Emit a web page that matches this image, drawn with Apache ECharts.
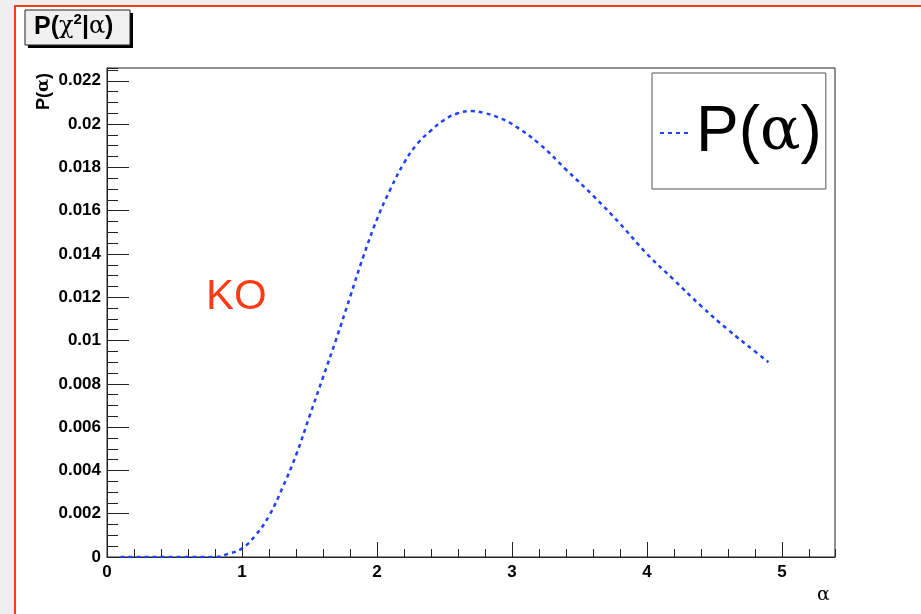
<!DOCTYPE html>
<html>
<head>
<meta charset="utf-8">
<script src="https://cdn.jsdelivr.net/npm/echarts@6/dist/echarts.min.js"></script>
<style>
  html, body { margin: 0; padding: 0; background: #efefef; }
  #chart { position: absolute; left: 0; top: 0; width: 921px; height: 614px; }
</style>
</head>
<body>
<div id="chart"></div>
<script>
// values
const alphaValues = [0.1, 0.2, 0.3, 0.4, 0.5, 0.6, 0.7, 0.8, 0.9, 1.0,
  1.1, 1.2, 1.3, 1.4, 1.5, 1.6, 1.7, 1.8, 1.9, 2.0,
  2.1, 2.2, 2.3, 2.4, 2.5, 2.6, 2.7, 2.8, 2.9, 3.0,
  3.2, 3.4, 3.6, 3.8, 4.0, 4.2, 4.4, 4.6, 4.8, 4.9];
const probValues = [0, 0, 0, 0, 0, 0, 0, 0, 0.00015, 0.0004,
  0.001, 0.0019, 0.0032, 0.0047, 0.0065, 0.0083, 0.0101, 0.012, 0.0139, 0.0156,
  0.017, 0.0182, 0.0191, 0.0197, 0.0202, 0.0205, 0.0206, 0.0205, 0.0203, 0.0200,
  0.0191, 0.0179, 0.0167, 0.0154, 0.0140, 0.0128, 0.0116, 0.0105, 0.0095, 0.0090];
const xTicks = [0, 1, 2, 3, 4, 5];
const yTicks = [0, 0.002, 0.004, 0.006, 0.008, 0.01, 0.012, 0.014, 0.016, 0.018, 0.02, 0.022];

const X_MAX = 5.393;
const Y_MAX = 0.02259;
const blue = "#2040ff";
const red = "#ff3a14";
const sans = "Liberation Sans, Arial, sans-serif";
const greek = "DejaVu Serif, Liberation Serif, serif";
const labelFont = {
  fontFamily: sans,
  fontWeight: "bold",
  fontSize: 17,
  color: "#000",
};

const chart = echarts.init(document.getElementById("chart"), null, { renderer: "canvas" });

const seriesData = alphaValues.map((a, i) => [a, probValues[i]]);

chart.setOption({
  animation: false,
  backgroundColor: "transparent",
  grid: {
    left: 107, top: 68, width: 728, height: 489,
    show: true, borderColor: "#222", borderWidth: 1, backgroundColor: "transparent",
  },
  legend: {
    data: ["P(α)"],
    left: 652, top: 73,
    orient: "vertical",
    backgroundColor: "#fff",
    borderColor: "#555", borderWidth: 1, borderRadius: 0,
    padding: [28, 4, 24, 7],
    itemWidth: 31, itemHeight: 14, itemGap: 0,
    itemStyle: { color: "transparent", borderColor: "transparent", borderWidth: 0 },
    formatter: () => "{a|P(}{b|α}{a|)}",
    textStyle: {
      color: "#000",
      rich: {
        a: { fontFamily: sans, fontSize: 64, color: "#000" },
        b: { fontFamily: greek, fontSize: 60, color: "#000" },
      },
    },
  },
  xAxis: [
    {
      type: "value", min: 0, max: X_MAX, interval: 1,
      axisLine: { show: true, onZero: false, lineStyle: { color: "#222", width: 1 } },
      axisTick: { show: true, inside: true, length: 15, lineStyle: { color: "#222" } },
      splitLine: { show: false },
      axisLabel: {
        ...labelFont, margin: 7, showMaxLabel: false,
        formatter: (v) => (xTicks.includes(v) ? String(v) : ""),
      },
    },
    {
      // minor ticks
      type: "value", min: 0, max: X_MAX, interval: 0.2, position: "bottom",
      axisLine: { show: false },
      axisTick: { show: true, inside: true, length: 8, lineStyle: { color: "#222" } },
      splitLine: { show: false },
      axisLabel: { show: false },
    },
  ],
  yAxis: [
    {
      type: "value", min: 0, max: Y_MAX, interval: 0.002,
      axisLine: { show: true, onZero: false, lineStyle: { color: "#222", width: 1 } },
      axisTick: { show: true, inside: true, length: 22, lineStyle: { color: "#222" } },
      splitLine: { show: false },
      axisLabel: {
        ...labelFont, margin: 6, showMaxLabel: false,
        formatter: (v) => {
          const r = +v.toFixed(4);
          return yTicks.includes(r) ? String(r) : "";
        },
      },
    },
    {
      // minor ticks
      type: "value", min: 0, max: Y_MAX, interval: 0.0005, position: "left",
      axisLine: { show: false },
      axisTick: { show: true, inside: true, length: 11, lineStyle: { color: "#222" } },
      splitLine: { show: false },
      axisLabel: { show: false },
    },
  ],
  series: [
    {
      name: "P(α)",
      type: "line",
      data: seriesData,
      smooth: 0.45,
      symbol: "none",
      clip: true,
      lineStyle: { color: blue, width: 2.5, type: [4, 4] },
      itemStyle: { color: blue },
    },
  ],
  graphic: [
    // pad frame
    {
      type: "rect", z: -10, silent: true,
      shape: { x: 15, y: 6, width: 930, height: 640 },
      style: { fill: "#fff", stroke: red, lineWidth: 2 },
    },
    // title box with shadow
    {
      type: "rect", silent: true,
      shape: { x: 28, y: 13, width: 105, height: 35 },
      style: { fill: "#000" },
    },
    {
      type: "rect", silent: true,
      shape: { x: 25, y: 10, width: 105, height: 35 },
      style: { fill: "#f0f0f0", stroke: "#222", lineWidth: 1 },
    },
    {
      type: "text", silent: true,
      left: 34, top: 12,
      style: {
        text: "{a|P(}{g|χ}{s|2}{a||}{g|α}{a|)}",
        rich: {
          a: { fontFamily: sans, fontWeight: "bold", fontSize: 25, fill: "#000", lineHeight: 30 },
          g: { fontFamily: greek, fontSize: 24, fill: "#000", lineHeight: 30 },
          s: { fontFamily: sans, fontWeight: "bold", fontSize: 15, fill: "#000", verticalAlign: "top", lineHeight: 24 },
        },
      },
    },
    // y axis title
    {
      type: "text", silent: true,
      x: 53, y: 110, rotation: Math.PI / 2,
      style: {
        text: "{a|P(}{g|α}{a|)}",
        rich: {
          a: { fontFamily: sans, fontWeight: "bold", fontSize: 18, fill: "#000" },
          g: { fontFamily: greek, fontWeight: "bold", fontSize: 17, fill: "#000" },
        },
        textAlign: "left", textVerticalAlign: "bottom",
      },
    },
    // x axis title
    {
      type: "text", silent: true,
      x: 817, y: 586,
      style: { text: "α", fontFamily: greek, fontSize: 19, fill: "#000" },
    },
    // KO mark
    {
      type: "text", silent: true,
      x: 206, y: 276,
      style: { text: "KO", fontFamily: sans, fontSize: 42, fill: red },
    },
  ],
});
</script>
</body>
</html>
